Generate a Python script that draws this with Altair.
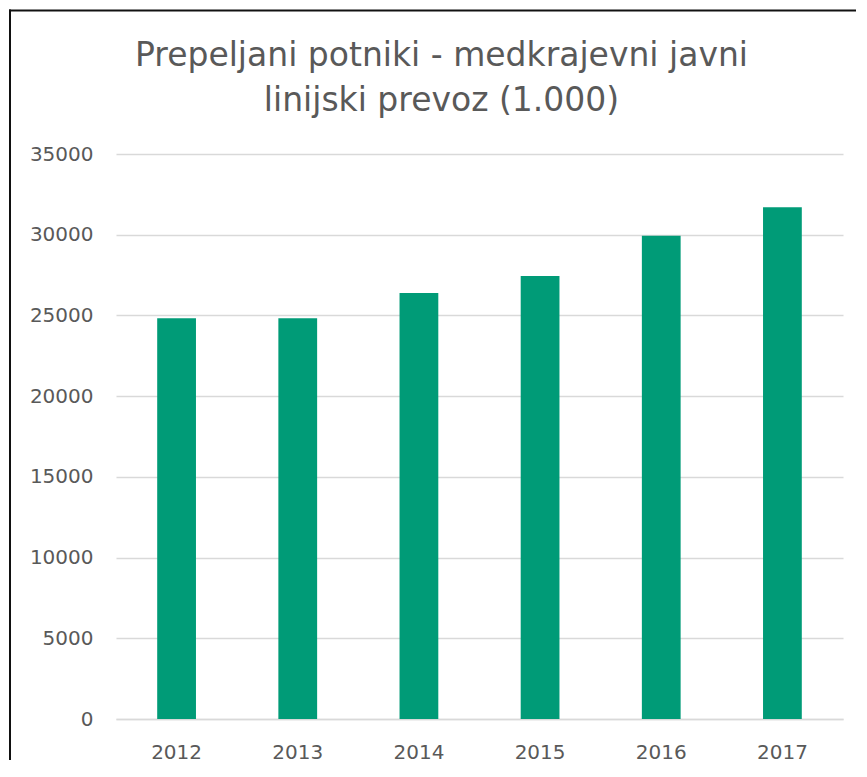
import altair as alt
import pandas as pd

years = ["2012", "2013", "2014", "2015", "2016", "2017"]
passengers = [24830, 24830, 26390, 27450, 29940, 31700]
y_ticks = [0, 5000, 10000, 15000, 20000, 25000, 30000, 35000]
title_lines = ["Prepeljani potniki - medkrajevni javni", "linijski prevoz (1.000)"]

df = pd.DataFrame({"leto": years, "potniki": passengers})

FONT = "DejaVu Sans"
TEXT = "#595959"
GRID = "#D9D9D9"

bars = alt.Chart(df).mark_bar(color="#009B77").encode(
    x=alt.X(
        "leto:N",
        sort=years,
        title=None,
        scale=alt.Scale(paddingInner=0.68, paddingOuter=0.34),
        axis=alt.Axis(
            labelAngle=0, ticks=False, labelPadding=23, labelFontSize=20,
            labelColor=TEXT, labelFont=FONT, domainColor=GRID, domainWidth=1.5,
        ),
    ),
    y=alt.Y(
        "potniki:Q",
        title=None,
        scale=alt.Scale(domain=[0, 35000], nice=False),
        axis=alt.Axis(
            values=y_ticks, format="d", ticks=False, domain=False, labelPadding=23,
            labelFontSize=20, labelColor=TEXT, labelFont=FONT,
            gridColor=GRID, gridWidth=1.5,
        ),
    ),
)

frame = pd.DataFrame({"k": [0]})
left_border = alt.Chart(frame).mark_rule(color="#111111", strokeWidth=2, strokeCap="butt").encode(
    x=alt.value(-106), y=alt.value(-144.5), y2=alt.value(606)
)
top_border = alt.Chart(frame).mark_rule(color="#111111", strokeWidth=2, strokeCap="butt").encode(
    x=alt.value(-107), x2=alt.value(740), y=alt.value(-143.5)
)

chart = alt.layer(bars, left_border, top_border).properties(
    width=727,
    height=565,
    padding=0,
    title=alt.TitleParams(
        text=title_lines, font=FONT, fontSize=33, fontWeight="normal", color=TEXT,
        anchor="middle", frame="group", baseline="bottom", lineHeight=45,
        offset=-142, dx=-38,
    ),
).configure_view(stroke=None)

chart.save("out.html", embed_options={"renderer": "svg", "actions": False})
